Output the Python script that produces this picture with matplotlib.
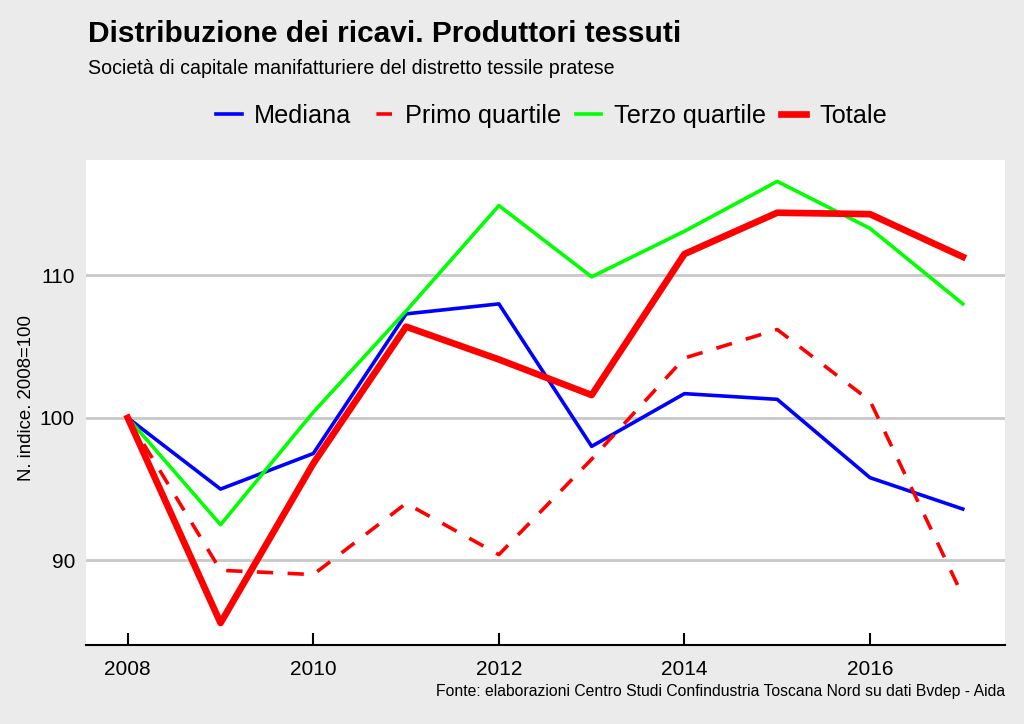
"""Distribuzione dei ricavi - produttori tessuti (indice 2008=100)."""
import numpy as np
import matplotlib
matplotlib.use("Agg")
import matplotlib.pyplot as plt
from matplotlib.lines import Line2D

plt.rcParams["font.family"] = ["Liberation Sans", "DejaVu Sans"]

anni = [2008, 2009, 2010, 2011, 2012, 2013, 2014, 2015, 2016, 2017]
mediana = [100, 95.0, 97.5, 107.3, 108.0, 98.0, 101.7, 101.3, 95.8, 93.6]
primo_q = [100, 89.3, 89.0, 94.0, 90.4, 97.1, 104.2, 106.2, 101.2, 87.5]
terzo_q = [100, 92.5, 100.4, 107.5, 114.9, 109.9, 113.1, 116.6, 113.3, 108.0]
totale = [100, 85.6, 96.8, 106.4, 104.1, 101.6, 111.5, 114.4, 114.3, 111.3]

BG = "#ebebeb"
BLU, ROSSO, VERDE = "#0000ff", "#ff0000", "#00ff00"

fig = plt.figure(figsize=(10.24, 7.24), dpi=100, facecolor=BG)
ax = fig.add_axes([0.084, 0.109, 0.897, 0.670])
ax.set_facecolor("white")

ax.plot(anni, mediana, color=BLU, lw=2.6)
ax.plot(anni, primo_q, color=ROSSO, lw=2.6, ls=(0, (4.5, 4)))
ax.plot(anni, terzo_q, color=VERDE, lw=2.6)
ax.plot(anni, totale, color=ROSSO, lw=4.8)

ax.set_xlim(2007.55, 2017.45)
ax.set_ylim(84.05, 118.1)
ax.set_xticks([2008, 2010, 2012, 2014, 2016])
ax.set_yticks([90, 100, 110])
ax.yaxis.grid(True, color="#c8c8c8", lw=2)
ax.set_axisbelow(True)
for s in ["top", "right", "left"]:
    ax.spines[s].set_visible(False)
ax.spines["bottom"].set_linewidth(1.5)
ax.tick_params(axis="x", direction="in", length=9, width=1.5, labelsize=15, pad=11)
ax.tick_params(axis="y", length=0, labelsize=15, pad=8)
ax.set_ylabel("N. indice. 2008=100", fontsize=13.4)
ax.yaxis.set_label_coords(-0.055, 0.51)

fig.text(0.086, 0.953, "Distribuzione dei ricavi. Produttori tessuti",
         fontsize=21.5, fontweight="bold", va="center")
fig.text(0.086, 0.906, "Società di capitale manifatturiere del distretto tessile pratese",
         fontsize=14.1, va="center")
fig.text(0.982, 0.045,
         "Fonte: elaborazioni Centro Studi Confindustria Toscana Nord su dati Bvdep - Aida",
         fontsize=11.3, ha="right", va="center")

# legend proxies: the dashed one shows a single centred dash, as in the original
maniglie = [Line2D([], [], color=BLU, lw=2.6),
            Line2D([], [], color=ROSSO, lw=2.6, ls=(5.9, (4.5, 4))),
            Line2D([], [], color=VERDE, lw=2.6),
            Line2D([], [], color=ROSSO, lw=4.8)]
etichette = ["Mediana", "Primo quartile", "Terzo quartile", "Totale"]
fig.legend(maniglie, etichette, loc="center", bbox_to_anchor=(0.5386, 0.840), ncol=4,
           frameon=False, fontsize=18.2, handlelength=1.0, handletextpad=0.5,
           columnspacing=0.6)

fig.savefig("out.png", dpi=100, facecolor=BG)
